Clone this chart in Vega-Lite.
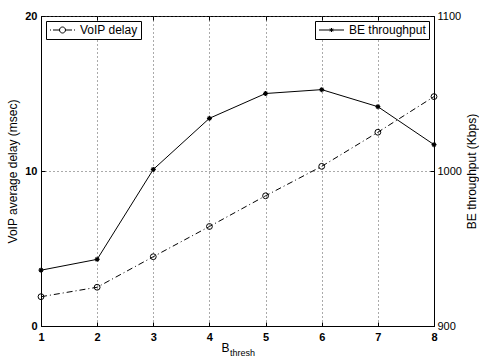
{
  "$schema": "https://vega.github.io/schema/vega-lite/v6.json",
  "autosize": {"type": "none"},
  "width": 393,
  "height": 310,
  "padding": {"left": 41, "top": 16, "right": 45, "bottom": 34},
  "background": "white",
  "config": {
    "font": "Liberation Sans",
    "view": {"stroke": "black", "strokeWidth": 1},
    "axis": {"domainColor": "black", "tickColor": "black", "labelColor": "black", "titleColor": "black", "titleFontWeight": "normal"}
  },
  "title": {"text": "thresh", "orient": "bottom", "anchor": "middle", "fontSize": 9, "fontWeight": "normal", "font": "Liberation Sans", "dx": 5, "offset": -4, "color": "black"},
  "datasets": {
    "voip": [
      {"b": 1, "delay": 1.89, "series": "VoIP delay"},
      {"b": 2, "delay": 2.5, "series": "VoIP delay"},
      {"b": 3, "delay": 4.47, "series": "VoIP delay"},
      {"b": 4, "delay": 6.42, "series": "VoIP delay"},
      {"b": 5, "delay": 8.4, "series": "VoIP delay"},
      {"b": 6, "delay": 10.3, "series": "VoIP delay"},
      {"b": 7, "delay": 12.5, "series": "VoIP delay"},
      {"b": 8, "delay": 14.8, "series": "VoIP delay"}
    ],
    "be": [
      {"b": 1, "tput": 936, "series": "BE throughput"},
      {"b": 2, "tput": 943, "series": "BE throughput"},
      {"b": 3, "tput": 1001, "series": "BE throughput"},
      {"b": 4, "tput": 1034, "series": "BE throughput"},
      {"b": 5, "tput": 1050, "series": "BE throughput"},
      {"b": 6, "tput": 1052.5, "series": "BE throughput"},
      {"b": 7, "tput": 1041.5, "series": "BE throughput"},
      {"b": 8, "tput": 1017, "series": "BE throughput"}
    ]
  },
  "layer": [
    {
      "data": {"name": "voip"},
      "encoding": {
        "x": {"field": "b", "type": "quantitative", "scale": {"domain": [1, 8], "nice": false},
          "axis": {"orient": "bottom", "values": [1,2,3,4,5,6,7,8], "title": "B", "titleFontSize": 12, "titleX": 184, "titleAlign": "center", "titlePadding": 0,
            "labelFontSize": 11, "labelFontWeight": "bold", "tickSize": -4, "labelPadding": 9, "labelFlush": false,
            "grid": true, "gridDash": [1, 3], "gridColor": "#555", "gridOpacity": 1}},
        "y": {"field": "delay", "type": "quantitative", "scale": {"domain": [0, 20], "nice": false},
          "axis": {"orient": "left", "values": [0, 10, 20], "title": "VoIP average delay (msec)", "titleFontSize": 12, "titlePadding": 5,
            "labelFontSize": 11, "labelFontWeight": "bold", "tickSize": -4, "labelPadding": 8,
            "grid": true, "gridDash": [1, 3], "gridColor": "#555", "gridOpacity": 1}}
      },
      "layer": [
        {"mark": {"type": "line", "color": "black", "strokeWidth": 1, "strokeDash": [6, 3, 1, 3]},
          "encoding": {"color": {"field": "series", "type": "nominal", "scale": {"range": ["black"]},
            "legend": {"orient": "top-left", "offset": 5, "title": null, "strokeColor": "black", "fillColor": "white", "padding": 3, "cornerRadius": 0,
              "symbolType": "M-1,0H-0.8M-0.4,0H0.9M2.1,0H3.4M3.8,0H4M0.9,0A0.6,0.6,0,1,1,2.1,0A0.6,0.6,0,1,1,0.9,0",
              "symbolSize": 100, "symbolStrokeWidth": 1, "symbolFillColor": "transparent", "symbolStrokeColor": "black", "labelOffset": 19, "labelFontSize": 12, "labelColor": "black", "labelFont": "Liberation Sans"}}}},
        {"mark": {"type": "point", "shape": "circle", "filled": false, "color": "black", "size": 34, "strokeWidth": 1, "opacity": 1}}
      ]
    },
    {
      "data": {"name": "be"},
      "encoding": {
        "x": {"field": "b", "type": "quantitative", "scale": {"domain": [1, 8], "nice": false},
          "axis": {"orient": "top", "values": [1,2,3,4,5,6,7,8], "title": null, "labels": false, "tickSize": -4, "grid": false, "domain": false}},
        "y": {"field": "tput", "type": "quantitative", "scale": {"domain": [900, 1100], "nice": false, "zero": false},
          "axis": {"orient": "right", "values": [900, 1000, 1100], "format": "d", "title": "BE throughput (Kbps)", "titleFontSize": 12, "titleAngle": 270, "titleBaseline": "bottom", "titlePadding": 17,
            "labelFontSize": 11, "tickSize": -4, "labelPadding": 7, "grid": false}}
      },
      "layer": [
        {"mark": {"type": "line", "color": "black", "strokeWidth": 1},
          "encoding": {"color": {"field": "series", "type": "nominal", "scale": {"range": ["black"]},
            "legend": {"orient": "top-right", "offset": 5, "title": null, "strokeColor": "black", "fillColor": "white", "padding": 3, "cornerRadius": 0,
              "symbolType": "M-1,0H4M1.1,0H1.9M1.5,-0.4V0.4M1.22,-0.28L1.78,0.28M1.22,0.28L1.78,-0.28",
              "symbolSize": 100, "symbolStrokeWidth": 1, "symbolFillColor": "transparent", "symbolStrokeColor": "black", "labelOffset": 19, "labelFontSize": 12, "labelColor": "black", "labelFont": "Liberation Sans"}}}},
        {"mark": {"type": "point", "shape": "M-1,0H1M0,-1V1M-0.7,-0.7L0.7,0.7M-0.7,0.7L0.7,-0.7", "filled": false, "color": "black", "size": 25, "strokeWidth": 1.2, "opacity": 1}}
      ]
    }
  ],
  "resolve": {"scale": {"y": "independent", "color": "independent"}, "legend": {"color": "independent"}, "axis": {"x": "independent"}}
}
